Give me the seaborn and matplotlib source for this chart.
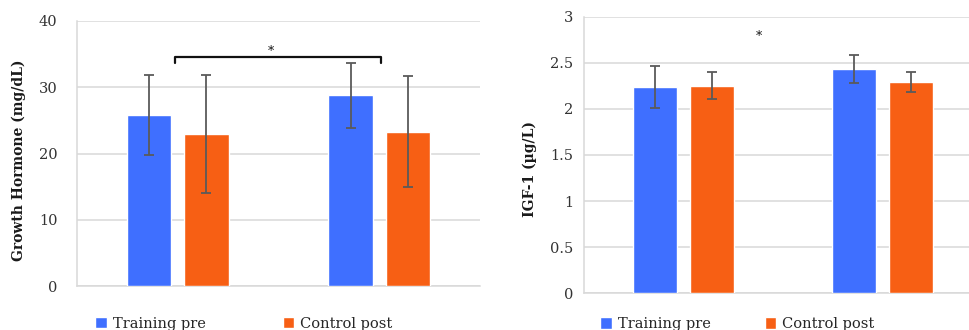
import pandas as pd
import matplotlib.pyplot as plt
import seaborn as sns

# values (means and SD)
groups = ['Pre', 'Post']
series = ['Training pre', 'Control post']

gh_training = [25.8, 28.8]
gh_training_sd = [6.0, 4.9]
gh_control = [23.0, 23.3]
gh_control_sd = [8.9, 8.4]

igf_training = [2.24, 2.43]
igf_training_sd = [0.23, 0.15]
igf_control = [2.25, 2.29]
igf_control_sd = [0.145, 0.11]

gh_ticks = [0, 10, 20, 30, 40]
igf_ticks = [0, 0.5, 1, 1.5, 2, 2.5, 3]
igf_tick_labels = ['0', '0.5', '1', '1.5', '2', '2.5', '3']

colors = {'Training pre': '#3F6FFF', 'Control post': '#F75F14'}
grid_col = '#D9D9D9'
err_col = '#5A5A5A'


def make_df(train, train_sd, ctrl, ctrl_sd):
    rows = []
    for i, g in enumerate(groups):
        rows.append({'group': g, 'series': series[0], 'value': train[i], 'sd': train_sd[i]})
        rows.append({'group': g, 'series': series[1], 'value': ctrl[i], 'sd': ctrl_sd[i]})
    return pd.DataFrame(rows)


def draw_panel(ax, df, ticks, tick_labels, ylabel, xlim, label_x, label_y, leg_anchor, colspace):
    sns.barplot(data=df, x='group', y='value', hue='series', order=groups,
                hue_order=series, palette=colors, width=0.57, gap=0.22,
                errorbar=None, saturation=1, ax=ax, zorder=3)
    # error bars at the centres of the bars that seaborn drew
    for container, s in zip(ax.containers, series):
        sub = df[df['series'] == s].set_index('group').loc[groups]
        xs = [p.get_x() + p.get_width() / 2 for p in container]
        ax.errorbar(xs, sub['value'], yerr=sub['sd'], fmt='none', ecolor=err_col,
                    elinewidth=1.3, capsize=3.5, capthick=1.3, zorder=4)
    ax.set_xlim(*xlim)
    ax.set_ylim(ticks[0], ticks[-1])
    ax.set_yticks(ticks)
    ax.set_yticklabels(tick_labels)
    ax.set_xticks([])
    ax.set_xlabel('')
    ax.set_ylabel(ylabel, fontweight='bold', fontsize=10, color='#1a1a1a')
    ax.yaxis.set_label_coords(label_x, label_y)
    ax.grid(axis='y', color=grid_col, linewidth=1.1, zorder=0)
    ax.tick_params(axis='y', length=0, labelsize=10.5, labelcolor='#333333')
    for side in ['top', 'right']:
        ax.spines[side].set_visible(False)
    for side in ['left', 'bottom']:
        ax.spines[side].set_color(grid_col)
        ax.spines[side].set_linewidth(1.1)
    handles, labels = ax.get_legend_handles_labels()
    ax.legend(handles, labels, loc='center left', bbox_to_anchor=leg_anchor,
              ncol=2, frameon=False, fontsize=10.5, borderpad=0, borderaxespad=0,
              handlelength=0.8, handleheight=0.8, handletextpad=0.4,
              columnspacing=colspace)


sns.set_style('white')
plt.rcParams['font.family'] = ['DejaVu Serif']

fig = plt.figure(figsize=(9.69, 3.3), dpi=100)
ax1 = fig.add_axes([77 / 969, 1 - 286 / 330, 403 / 969, 265 / 330])
ax2 = fig.add_axes([584 / 969, 1 - 293.3 / 330, 385 / 969, 276.6 / 330])

gh = make_df(gh_training, gh_training_sd, gh_control, gh_control_sd)
igf = make_df(igf_training, igf_training_sd, igf_control, igf_control_sd)

draw_panel(ax1, gh, gh_ticks, [str(t) for t in gh_ticks], 'Growth Hormone (mg/dL)',
           (-0.5, 1.5), -0.127, 0.475, (0.045, -0.143), 5.3)
ax1.tick_params(axis='y', pad=14)
draw_panel(ax2, igf, igf_ticks, igf_tick_labels, 'IGF-1 (\u00b5g/L)',
           (-0.5, 1.434), -0.122, 0.45, (0.042, -0.111), 3.7)
ax2.tick_params(axis='y', pad=8)

# significance marks
ax1.plot([-0.015, -0.015, 1.01, 1.01], [33.7, 34.6, 34.6, 33.7], color='#111111', lw=1.6, zorder=5)
ax1.text(0.46, 35.4, '*', ha='center', va='center', fontsize=9, color='#111111')
ax2.text(0.38, 2.79, '*', ha='center', va='center', fontsize=9, color='#111111')

fig.savefig('out.png', dpi=100)
plt.close(fig)
